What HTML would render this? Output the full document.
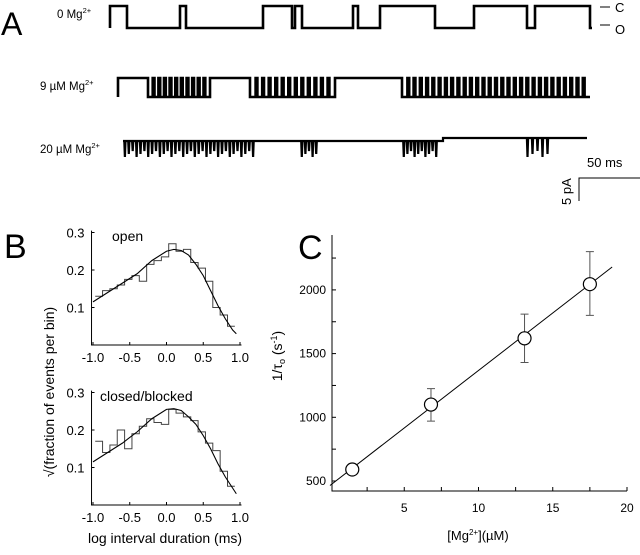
<!DOCTYPE html>
<html><head><meta charset="utf-8"><style>
html,body{margin:0;padding:0;background:#fff;}
svg{display:block;font-family:"Liberation Sans",sans-serif;}
</style></head><body>
<svg id="fig" width="640" height="555" viewBox="0 0 640 555">
<g id="pA">
<text x="1" y="35" font-size="32">A</text>
<text x="57" y="18" font-size="11.5">0 Mg<tspan font-size="7.5" dy="-5">2+</tspan></text>
<text x="40" y="90" font-size="11.5">9 µM Mg<tspan font-size="7.5" dy="-5">2+</tspan></text>
<text x="40" y="153" font-size="11.5">20 µM Mg<tspan font-size="7.5" dy="-5">2+</tspan></text>
<line x1="600" y1="7" x2="610" y2="7" stroke="#000" stroke-width="1"/>
<text x="615" y="12" font-size="13">C</text>
<line x1="600" y1="25" x2="610" y2="25" stroke="#000" stroke-width="1"/>
<text x="615" y="34" font-size="13">O</text>
<path d="M579 201 L579 178 L640 178" fill="none" stroke="#000" stroke-width="1"/>
<text x="587" y="167" font-size="13">50 ms</text>
<text transform="translate(571,205) rotate(-90)" font-size="13">5 pA</text>
</g>
<g id="pB">
<text x="4" y="258" font-size="34">B</text>
<text transform="translate(54,392) rotate(-90)" font-size="14" text-anchor="middle">√(fraction of events per bin)</text>
<text x="165" y="543" font-size="14" text-anchor="middle">log interval duration (ms)</text>
<text x="112" y="241" font-size="14">open</text>
<text x="100" y="401" font-size="14">closed/blocked</text>
</g>
<g id="pC">
<text x="298" y="259" font-size="34">C</text>
<text transform="translate(282,356) rotate(-90)" font-size="14" text-anchor="middle">1/τ<tspan font-size="9" dy="3">o</tspan><tspan dy="-3"> (s</tspan><tspan font-size="9" dy="-5">-1</tspan><tspan dy="5">)</tspan></text>
<text x="478" y="540" font-size="13" text-anchor="middle">[Mg<tspan font-size="8" dy="-5">2+</tspan><tspan dy="5">](µM)</tspan></text>
</g>
</svg>
<script>
// ---------- Panel B data ----------
const binStarts = [-1.0,-0.9,-0.8,-0.7,-0.6,-0.5,-0.4,-0.3,-0.2,-0.1,0.0,0.1,0.2,0.3,0.4,0.5,0.6,0.7,0.8];
const openHist = [0.13,0.145,0.15,0.16,0.175,0.185,0.17,0.215,0.225,0.235,0.27,0.25,0.255,0.22,0.205,0.17,0.10,0.08,0.05];
const closedHist = [0.17,0.14,0.16,0.20,0.15,0.19,0.21,0.23,0.22,0.215,0.255,0.245,0.235,0.225,0.195,0.165,0.145,0.09,0.05];
const fitX = [-1.0,-0.8,-0.6,-0.4,-0.2,0.0,0.1,0.2,0.3,0.4,0.5,0.6,0.7,0.8,0.9,0.95];
const openFit = [0.115,0.14,0.165,0.19,0.225,0.25,0.255,0.252,0.24,0.215,0.185,0.145,0.105,0.07,0.04,0.03];
const closedFit = [0.115,0.14,0.165,0.195,0.23,0.255,0.257,0.252,0.235,0.215,0.185,0.15,0.11,0.075,0.045,0.03];
const bTicksX = [-1.0,-0.5,0.0,0.5,1.0];
const bTickLabelsX = ["-1.0","-0.5","0.0","0.5","1.0"];
const bTicksY = [0.1,0.2,0.3];
const bTickLabelsY = ["0.1","0.2","0.3"];
// ---------- Panel C data ----------
const mgConc = [1.5,6.8,13.1,17.5];
const rate = [590,1100,1620,2045];
const errLow = [590,970,1430,1800];
const errHigh = [590,1225,1810,2300];
const fitLineX = [0,19];
const fitLineY = [465,2180];
const cTicksX = [5,10,15,20];
const cTickLabelsX = ["5","10","15","20"];
const cMinorX = [2.5,7.5,12.5,17.5];
const cTicksY = [500,1000,1500,2000];
const cTickLabelsY = ["500","1000","1500","2000"];
const cMinorY = [750,1250,1750,2250];
// ---------- Panel A traces ----------
const trace0Closed = [[0,17],[70,76],[153,182],[185,192],[243,248],[270,325],[364,417],[425,480]];
const trace0Len = 482;
const trace9Closed = [[0,30],[92,132],[217,284]];
const trace9Len = 472;
const trace9Flicker = [[30,92,11],[132,217,13],[284,472,30]];
const trace20Dips = [[0,132,34],[177,195,5],[279,315,10],[402,427,5]];
const trace20Len = 464;

const NS="http://www.w3.org/2000/svg";
const svg=document.getElementById('fig');
function mk(tag,attrs,parent){const e=document.createElementNS(NS,tag);for(const k in attrs)e.setAttribute(k,attrs[k]);(parent||svg).appendChild(e);return e;}

// ---- Panel A drawing ----
const gA=document.getElementById('pA');
function drawStates(x0,len,yC,yO,closed,name){
  let pts=[[0,yO]];
  closed.forEach(([a,b])=>{pts.push([a,yO],[a,yC],[Math.min(b,len),yC],[Math.min(b,len),yO]);});
  pts.push([len,yO]);
  const d='M'+pts.map(p=>(x0+p[0]).toFixed(1)+' '+p[1]).join(' L');
  const p=mk('path',{d:d,fill:'none',stroke:'#000','stroke-width':'2.6'},gA);
  
  
}
drawStates(110,trace0Len,6,28,trace0Closed.slice(),'trace-0mg');
(function(){
  const x0=118,yC=78,yO=97;
  let closed=trace9Closed.slice();
  trace9Flicker.forEach(([a,b,n])=>{const w=(b-a)/n;for(let i=1;i<n;i++){const c=a+i*w;closed.push([c-0.9,c+0.9]);}});
  closed.sort((p,q)=>p[0]-q[0]);
  drawStates(x0,trace9Len,yC,yO,closed,'trace-9um');
})();
(function(){
  const x0=123,yD=157;
  const base=o=>o<320?141:138;
  let pts=[[0,base(0)]];
  trace20Dips.forEach(([a,b,n])=>{const w=(b-a)/n;for(let i=0;i<n;i++){const c=a+i*w+w/2;pts.push([c-0.6,base(c)],[c,yD-(i%3)*3],[c+0.6,base(c)]);}});
  pts.push([320,141],[320,138]);
  pts.push([trace20Len,138]);
  pts.sort((p,q)=>p[0]-q[0]);
  const p=mk('path',{d:'M'+pts.map(q=>(x0+q[0]).toFixed(1)+' '+q[1]).join(' L'),fill:'none',stroke:'#000','stroke-width':'2.2'},gA);
  
  
})();

// ---- Panel B drawing ----
const gB=document.getElementById('pB');
const bx=v=>166.5+v*73.5;
function histPanel(y0,hist,fit,prefix){
  const by=v=>y0-v*375;
  const ax=mk('path',{d:`M${bx(-1.02)} ${by(0.305)} L${bx(-1.02)} ${y0} L${bx(1.02)} ${y0}`,fill:'none',stroke:'#000','stroke-width':'1'},gB);
  
  
  bTicksX.forEach((t,i)=>{
    const l=mk('line',{x1:bx(t),x2:bx(t),y1:y0,y2:y0-3,stroke:'#000'},gB);
    
    
    const tx=mk('text',{x:bx(t),y:y0+17,'font-size':'13','text-anchor':'middle'},gB);
    tx.textContent=bTickLabelsX[i];
    
    
  });
  bTicksY.forEach((t,i)=>{
    const l=mk('line',{x1:bx(-1.02),x2:bx(-1.02)+3,y1:by(t),y2:by(t),stroke:'#000'},gB);
    
    
    const tx=mk('text',{x:bx(-1.02)-7,y:by(t)+5,'font-size':'13','text-anchor':'end'},gB);
    tx.textContent=bTickLabelsY[i];
    
    
  });
  let d='';
  binStarts.forEach((s,i)=>{const x1=bx(s+0.03),x2=bx(s+0.13);d+=(i?'L':'M')+x1+' '+by(hist[i])+' L'+x2+' '+by(hist[i])+' ';});
  const h=mk('path',{d:d,fill:'none',stroke:'#444','stroke-width':'1'},gB);
  
  
  const f=mk('polyline',{points:fitX.map((x,i)=>bx(x)+','+by(fit[i])).join(' '),fill:'none',stroke:'#000','stroke-width':'1.1'},gB);
  
  
}
histPanel(345,openHist,openFit,'open');
histPanel(505,closedHist,closedFit,'closed');

// ---- Panel C drawing ----
const gC=document.getElementById('pC');
const cx=v=>330+v*14.85;
const cy=v=>481-(v-500)*0.1274;
const cax=mk('path',{d:`M332 235 L332 491 L627 491`,fill:'none',stroke:'#000','stroke-width':'1'},gC);


cTicksX.forEach((t,i)=>{
  const l=mk('line',{x1:cx(t),x2:cx(t),y1:491,y2:487,stroke:'#000'},gC);
  
  
  const tx=mk('text',{x:cx(t),y:512,'font-size':'12','text-anchor':'middle'},gC);
  tx.textContent=cTickLabelsX[i];
  
  
});
cMinorX.forEach(t=>{
  const l=mk('line',{x1:cx(t),x2:cx(t),y1:491,y2:487,stroke:'#000'},gC);
  
  
});
cTicksY.forEach((t,i)=>{
  const l=mk('line',{x1:332,x2:336,y1:cy(t),y2:cy(t),stroke:'#000'},gC);
  
  
  const tx=mk('text',{x:326,y:cy(t)+4,'font-size':'12','text-anchor':'end'},gC);
  tx.textContent=cTickLabelsY[i];
  
  
});
cMinorY.forEach(t=>{
  const l=mk('line',{x1:332,x2:336,y1:cy(t),y2:cy(t),stroke:'#000'},gC);
  
  
});
const fl=mk('line',{x1:cx(fitLineX[0]),y1:cy(fitLineY[0]),x2:cx(fitLineX[1]),y2:cy(fitLineY[1]),stroke:'#000','stroke-width':'1'},gC);


mgConc.forEach((m,i)=>{
  if(errHigh[i]>errLow[i]){
    const e=mk('path',{d:`M${cx(m)} ${cy(errLow[i])} L${cx(m)} ${cy(errHigh[i])} M${cx(m)-4} ${cy(errLow[i])} L${cx(m)+4} ${cy(errLow[i])} M${cx(m)-4} ${cy(errHigh[i])} L${cx(m)+4} ${cy(errHigh[i])}`,fill:'none',stroke:'#555','stroke-width':'1'},gC);
    
    
  }
  const c=mk('circle',{cx:cx(m),cy:cy(rate[i]),r:6.5,fill:'#fff',stroke:'#000','stroke-width':'1.2'},gC);
  
  
});
</script>
</body></html>
